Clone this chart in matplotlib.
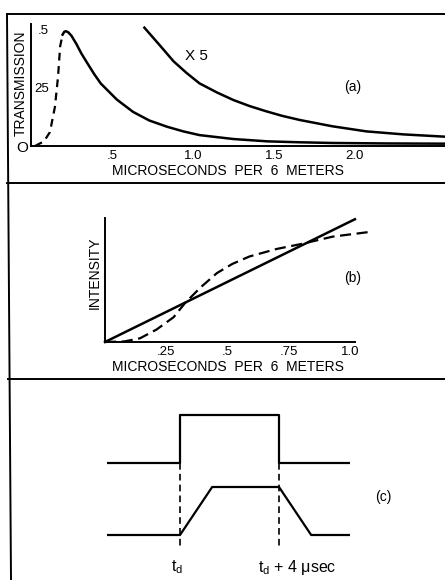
import numpy as np
import matplotlib
matplotlib.use('Agg')
import matplotlib.pyplot as plt
from matplotlib.lines import Line2D

plt.rcParams['font.family'] = ['Liberation Sans', 'DejaVu Sans']
plt.rcParams['mathtext.default'] = 'regular'

W, H = 445, 580

# (a) transmission vs. delay
rise_t = [0.025, 0.08, 0.117, 0.148, 0.167, 0.18, 0.195]
rise_v = [0.0, 0.02, 0.06, 0.17, 0.30, 0.43, 0.48]
decay_t = [0.195, 0.205, 0.215, 0.23, 0.25, 0.28, 0.31, 0.345, 0.39, 0.43, 0.48, 0.53, 0.63, 0.73,
           0.84, 0.94, 1.04, 1.25, 1.46, 1.66, 1.86, 2.2, 2.56]
decay_v = [0.48, 0.492, 0.495, 0.49, 0.475, 0.44, 0.40, 0.36, 0.31, 0.27, 0.235, 0.20, 0.147, 0.11,
           0.083, 0.063, 0.047, 0.03, 0.02, 0.016, 0.013, 0.011, 0.01]
x5_t = [0.70, 0.75, 0.80, 0.88, 0.96, 1.04, 1.15, 1.25, 1.35, 1.45, 1.55, 1.66, 1.86, 2.07, 2.3, 2.56]
x5_v = [0.51, 0.47, 0.43, 0.365, 0.315, 0.27, 0.23, 0.198, 0.172, 0.15, 0.13, 0.112, 0.085, 0.063, 0.05, 0.04]
a_ticks = [0.5, 1.0, 1.5, 2.0]
a_ticklabels = ['.5', '1.0', '1.5', '2.0']
a_yticks = [0.25, 0.5]
a_yticklabels = ['25', '.5']

# (b) intensity
lin_t = [0.0, 1.02]
lin_v = [0.0, 0.99]
curve_t = [0.0, 0.08, 0.143, 0.21, 0.28, 0.327, 0.39, 0.457, 0.52, 0.59, 0.70, 0.80, 0.93, 1.09]
curve_v = [0.0, 0.005, 0.03, 0.10, 0.20, 0.315, 0.44, 0.556, 0.63, 0.69, 0.75, 0.79, 0.85, 0.89]
b_ticks = [0.25, 0.5, 0.75, 1.0]
b_ticklabels = ['.25', '.5', '.75', '1.0']

# (c) gate pulse and response, time in microseconds after t_d
pulse_t = [-2.95, 0, 0, 4, 4, 6.85]
pulse_v = [1.5, 1.5, 2.5, 2.5, 1.5, 1.5]
resp_t = [-2.95, 0, 1.3, 4, 5.3, 6.85]
resp_v = [0, 0, 1, 1, 0, 0]
marks_t = [0, 4]
marks_labels = ['$t_d$', '$t_d$ + 4 \u03bcsec']


def fx(x):
    return x / W


def fy(y):
    return 1 - y / H


def add_ax(x0, y0, x1, y1):
    # box in pixels, y measured from the top
    return fig.add_axes([fx(x0), fy(y1), fx(x1) - fx(x0), fy(y0) - fy(y1)])


fig = plt.figure(figsize=(W / 100, H / 100), dpi=100)

# frame and dividers
for seg in [((7, 445), (14, 14)), ((7, 11), (14, 580)), ((7, 445), (183, 183)), ((8, 445), (379, 379))]:
    fig.add_artist(Line2D([fx(v) for v in seg[0]], [fy(v) for v in seg[1]],
                          color='black', lw=1.4, transform=fig.transFigure))

fs = 10
tfs = 9.5

# panel a
ax = add_ax(31, 24, 445, 146)
ax.plot(rise_t, rise_v, color='black', lw=1.6, ls=(0, (3.5, 2.5)), clip_on=False)
ax.plot(decay_t, decay_v, color='black', lw=1.8, clip_on=False)
ax.plot(x5_t, x5_v, color='black', lw=1.8, clip_on=False)
ax.set_xlim(0, (445 - 31) / 162)
ax.set_ylim(0, (146 - 24) / 232)
ax.spines[['top', 'right']].set_visible(False)
for s in ['left', 'bottom']:
    ax.spines[s].set_linewidth(1.4)
ax.set_xticks(a_ticks, a_ticklabels, fontsize=tfs)
ax.set_yticks(a_yticks, a_yticklabels, fontsize=tfs)
ax.tick_params(axis='x', length=0, pad=3)
ax.tick_params(axis='y', length=0, pad=-13)
ax.text(0.95, 0.37, 'X 5', fontsize=fs + 1)
fig.text(fx(22), fy(148), 'O', fontsize=fs + 1, ha='center', va='center')
fig.text(fx(21), fy(83), 'TRANSMISSION', fontsize=fs, rotation=90, ha='center', va='center')
fig.text(fx(228), fy(171), 'MICROSECONDS  PER  6  METERS', fontsize=fs, ha='center', va='center')
fig.text(fx(353), fy(87), '(a)', fontsize=fs, ha='center', va='center')

# panel b
bx = add_ax(105, 218, 355, 342)
bx.plot(lin_t, lin_v, color='black', lw=1.8, clip_on=False)
bx.plot(curve_t, curve_v, color='black', lw=1.6, ls=(0, (5, 2.5)), clip_on=False)
bx.set_xlim(0, (355 - 105) / 245)
bx.set_ylim(0, 1)
bx.spines[['top', 'right']].set_visible(False)
for s in ['left', 'bottom']:
    bx.spines[s].set_linewidth(1.4)
bx.set_xticks(b_ticks, b_ticklabels, fontsize=tfs)
bx.set_yticks([])
bx.tick_params(axis='x', length=0, pad=3)
fig.text(fx(95), fy(273), 'INTENSITY', fontsize=fs, rotation=90, ha='center', va='center')
fig.text(fx(228), fy(367), 'MICROSECONDS  PER  6  METERS', fontsize=fs, ha='center', va='center')
fig.text(fx(353), fy(278), '(b)', fontsize=fs, ha='center', va='center')

# panel c
cx = add_ax(107, 390, 350, 580)
cx.plot(pulse_t, pulse_v, color='black', lw=1.6)
cx.plot(resp_t, resp_v, color='black', lw=1.6)
for t, lbl in zip(marks_t, marks_labels):
    cx.plot([t, t], [1.5, -0.3], color='black', lw=1.2, ls=(0, (4, 2.5)))
    cx.text(t - 0.1 if t == 0 else t - 0.85, -0.68, lbl, fontsize=fs + 1.5,
            ha='center' if t == 0 else 'left', va='center')
cx.set_xlim((107 - 180) / 24.75, (350 - 180) / 24.75)
cx.set_ylim((535 - 580) / 48, (535 - 390) / 48)
cx.axis('off')
fig.text(fx(383), fy(497), '(c)', fontsize=fs, ha='center', va='center')

fig.savefig('out.png', dpi=100)
